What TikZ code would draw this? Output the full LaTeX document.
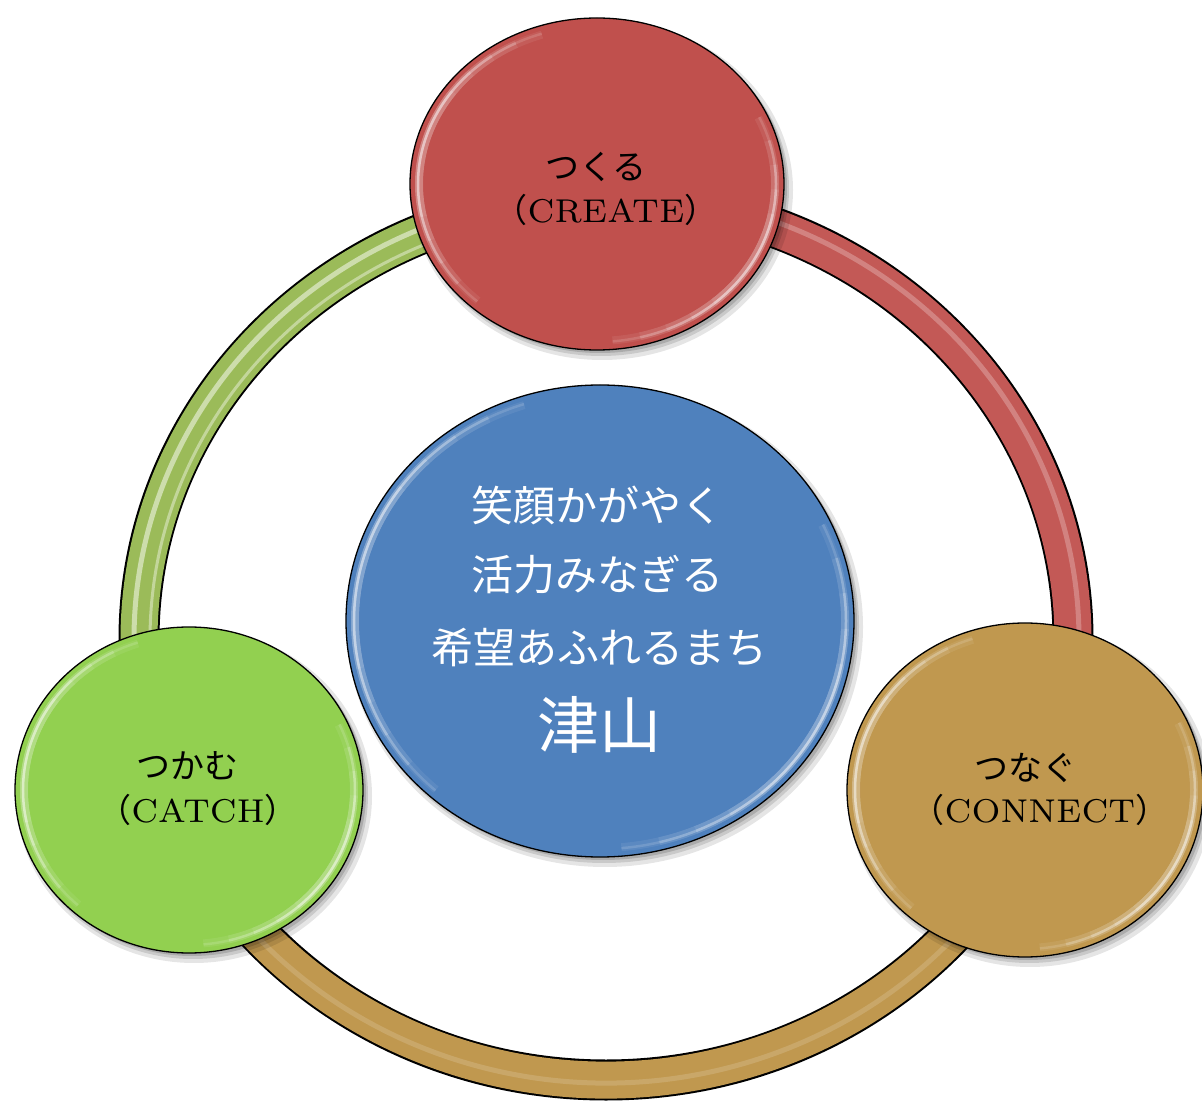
\documentclass[tikz,border=0pt]{standalone}
\usepackage{fontspec}
\usetikzlibrary{shapes.geometric}
\newfontfamily\jp{Noto Sans CJK JP}
\newfontfamily\lat{lmroman7-regular}[Extension=.otf]
\definecolor{cred}{HTML}{C0504D}
\definecolor{cblue}{HTML}{4F81BD}
\definecolor{cgreen}{HTML}{92D050}
\definecolor{cgold}{HTML}{C0984F}
\definecolor{colive}{HTML}{9BBB59}
\newcommand\myshine[5]{%
  % #1 center, #2 rx, #3 ry, #4 mid angle, #5 base half span
  \foreach \k in {1,...,5}{%
    \draw[white,opacity=.07,line width=8pt,shift={#1}] ({#4-#5-9*\k}:{#2-9} and {#3-9}) arc[start angle=#4-#5-9*\k,end angle=#4+#5+9*\k,x radius=#2-9,y radius=#3-9];
    \draw[white,opacity=.14,line width=2.5pt,shift={#1}] ({#4-#5-9*\k}:{#2-8} and {#3-8}) arc[start angle=#4-#5-9*\k,end angle=#4+#5+9*\k,x radius=#2-8,y radius=#3-8];
  }%
}
\newcommand\mybubble[5]{%
  % #1 name, #2 center, #3 rx, #4 ry, #5 colour
  \fill[black,opacity=.10,shift={(5,-6)}] #2 ellipse[x radius=#3+4, y radius=#4+4];
  \fill[black,opacity=.12,shift={(4,-5)}] #2 ellipse[x radius=#3+1, y radius=#4+1];
  \fill[black,opacity=.15,shift={(3,-3)}] #2 ellipse[x radius=#3, y radius=#4];
  \node[bubble, fill=#5, minimum width=2*#3pt, minimum height=2*#4pt] (#1) at #2 {};
  \myshine{#2}{#3}{#4}{168}{15}
  \myshine{#2}{#3}{#4}{-30}{10}
  \draw[black,line width=1.3pt] (#1.center) ellipse[x radius=#3, y radius=#4];
}
\tikzset{
  bubble/.style={ellipse, inner sep=0pt, outer sep=0pt, draw=none},
  lbl/.style={inner sep=0pt, text=black, font=\lat\fontsize{33pt}{40pt}\selectfont},
  jlbl/.style={inner sep=0pt, text=black, font=\jp\fontsize{34pt}{40pt}\selectfont},
  bluetxt/.style={inner sep=0pt, text=white, font=\jp\fontsize{42pt}{46pt}\selectfont},
  ringout/.style={black, line width=41pt},
  ringseg/.style={line width=37pt},
  ringshine/.style={white, opacity=.35, line width=5pt}
}
\begin{document}
\begin{tikzpicture}[x=1pt,y=1pt]
\useasboundingbox (0,0) rectangle (1202,1104);
\fill[white] (0,0) rectangle (1202,1104);
% ring
\coordinate (rc) at (606,465);
\draw[ringout] (rc) ellipse[x radius=467, y radius=441];
\draw[ringseg, cred!95!white] ([shift={(91:467 and 441)}]rc) arc[start angle=91, end angle=-21, x radius=467, y radius=441];
\draw[ringseg, colive] ([shift={(91:467 and 441)}]rc) arc[start angle=91, end angle=201, x radius=467, y radius=441];
\draw[ringseg, cgold] ([shift={(201:467 and 441)}]rc) arc[start angle=201, end angle=339, x radius=467, y radius=441];
\draw[ringshine, opacity=.25] ([shift={(91:473 and 447)}]rc) arc[start angle=91, end angle=-21, x radius=473, y radius=447];
\draw[ringshine, opacity=.5] ([shift={(91:472 and 446)}]rc) arc[start angle=91, end angle=201, x radius=472, y radius=446];
\draw[ringshine, opacity=.4, line width=3pt] ([shift={(91:456 and 430)}]rc) arc[start angle=91, end angle=201, x radius=456, y radius=430];
\draw[ringshine, opacity=.15] ([shift={(201:470 and 444)}]rc) arc[start angle=201, end angle=339, x radius=470, y radius=444];
% bubbles
\mybubble{catch}{(189,314)}{174}{163}{cgreen}
\mybubble{connect}{(1025,314)}{178}{167}{cgold}
\mybubble{create}{(597,920)}{187}{166}{cred}
\mybubble{center}{(600,483)}{254}{236}{cblue}
% labels
\node[jlbl] (createA) at (596,937) {つくる};
\node[lbl] (createB) at (606,894) {{\jp （}CREATE{\jp ）}};
\node[jlbl] (catchA) at (187,338) {つかむ};
\node[lbl] (catchB) at (198,294) {{\jp （}CATCH{\jp ）}};
\node[jlbl] (connectA) at (1025,336) {つなぐ};
\node[lbl] (connectB) at (1040,294) {{\jp （}CONNECT{\jp ）}};
\node[bluetxt] (l1) at (597,599) {笑顔かがやく};
\node[bluetxt] (l2) at (597,529) {活力みなぎる};
\node[bluetxt] (l3) at (599,457) {希望あふれるまち};
\node[bluetxt, font=\jp\fontsize{62pt}{66pt}\selectfont] (l4) at (599,379) {津山};
\end{tikzpicture}
\end{document}
